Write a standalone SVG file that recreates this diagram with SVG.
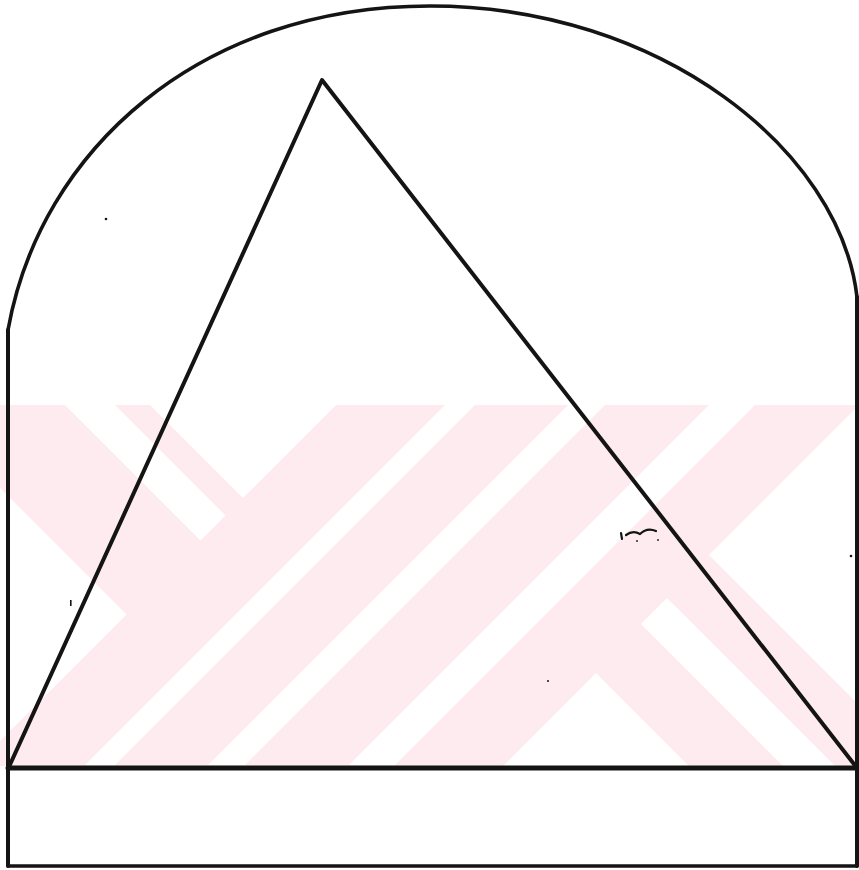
<svg xmlns="http://www.w3.org/2000/svg" width="859" height="870" viewBox="0 0 859 870">
<style>
.ln{fill:none;stroke:#141414;stroke-linecap:round;stroke-linejoin:round}
.wm{fill:#ffffff}
.speck{fill:#141414}
</style>
<defs>
<clipPath id="wmclip"><rect x="0" y="405" width="857" height="361"/></clipPath>
</defs>
<rect x="0" y="0" width="859" height="870" fill="#ffffff"/>
<g id="watermark" clip-path="url(#wmclip)">
<rect x="0" y="405" width="857" height="361" fill="#fdebef"/>
<polygon class="wm" points="150,405 336,405 243,498"/>
<polygon class="wm" points="65,405 115,405 225.5,515.5 200.5,540.5"/>
<polygon class="wm" points="0,488 126.5,614.5 0,741"/>
<polygon class="wm" points="445,405 475,405 115,765 85,765"/>
<polygon class="wm" points="568,405 605,405 245,765 208,765"/>
<polygon class="wm" points="709,405 755,405 395,765 349,765"/>
<polygon class="wm" points="709,555 869,395 969,395 969,815"/>
<polygon class="wm" points="667,598 844,775 792,775 641,624"/>
<polygon class="wm" points="596,673 698,775 494,775"/>
</g>
<g id="arch">
<path class="ln" stroke-width="3.6" d="M8,330 C40,150 200,6 430,6 C660,6 840,150 857,297"/>
</g>
<g id="walls">
<path class="ln" stroke-width="4" d="M8,330 L8,866"/>
<path class="ln" stroke-width="4" d="M857,297 L857,866"/>
</g>
<g id="triangle">
<path class="ln" stroke-width="4" stroke-linejoin="miter" d="M8,769 L322,80 L857,768"/>
</g>
<g id="base">
<path class="ln" stroke-width="5" d="M8,768 L857,768"/>
<path class="ln" stroke-width="3.5" d="M8,866 L857,866"/>
</g>
<g id="specks">
<circle class="speck" cx="106" cy="219" r="1.3"/>
<rect class="speck" x="70" y="600" width="1.6" height="6"/>
<circle class="speck" cx="548" cy="681" r="1"/>
<path class="ln" stroke-width="2.2" d="M621,533 L622,539 M626,535 Q633,530 640,534 Q647,527 656,531"/>
<circle class="speck" cx="637" cy="541" r="0.9"/>
<circle class="speck" cx="658" cy="540" r="0.9"/>
<circle class="speck" cx="851" cy="556" r="1.3"/>
</g>
</svg>
